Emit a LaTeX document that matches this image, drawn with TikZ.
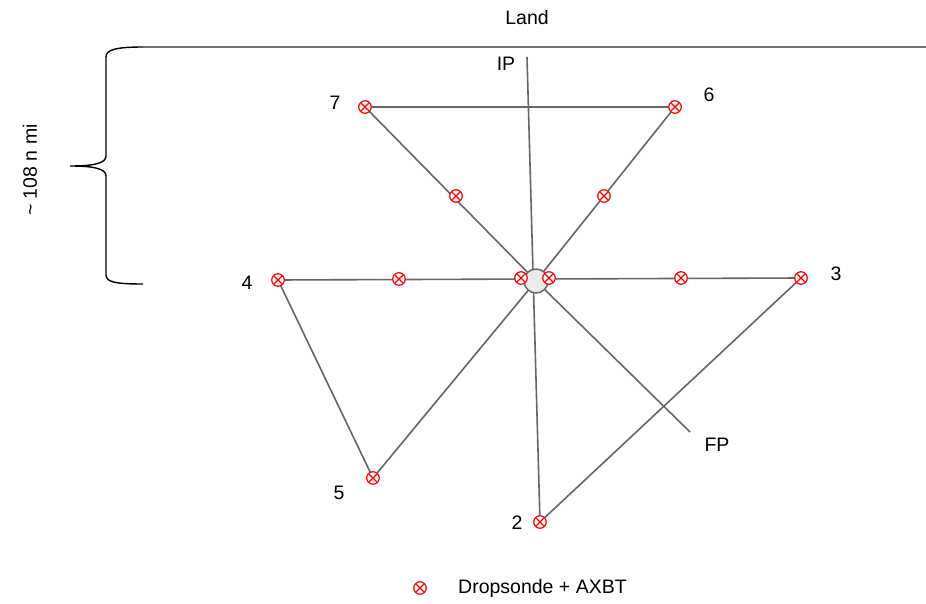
\documentclass[tikz,border=0pt]{standalone}
\usepackage{fontspec}
\setmainfont{Liberation Sans}
\pgfdeclarelayer{bg}
\pgfsetlayers{bg,main}
\begin{document}
\begin{tikzpicture}[x=1pt,y=-1pt,
  ln/.style={draw=black!60,line width=1.6pt},
  drop/.style={circle,draw=red,line width=1.2pt,fill=white,inner sep=0pt,minimum size=12.5pt,
    path picture={\draw[red,line width=1.2pt] ([xshift=2.6pt,yshift=2.6pt]path picture bounding box.south west) -- ([xshift=-2.6pt,yshift=-2.6pt]path picture bounding box.north east);
    \draw[red,line width=1.2pt] ([xshift=2.6pt,yshift=-2.6pt]path picture bounding box.north west) -- ([xshift=-2.6pt,yshift=2.6pt]path picture bounding box.south east);}},
  lab/.style={font=\fontsize{19.5}{23}\selectfont,inner sep=0pt}]
\useasboundingbox (0,0) rectangle (926,604);
% land line
\coordinate (landL) at (143,47);
\coordinate (landR) at (926,47);
\draw[black!55,line width=1.1pt] (landL) -- (landR);
\node[lab] (land) at (527,18) {Land};
% brace
\draw[black,line width=1.4pt] (landL) .. controls (115,47) and (106,50) .. (106,57) -- (106,156)
  .. controls (106,163) and (95,166) .. (70,166)
  .. controls (95,166) and (106,169) .. (106,176) -- (106,275)
  .. controls (106,282) and (115,284) .. (143,284);
\node[lab,rotate=90] (dist) at (30,170) {\textasciitilde{} 108 n mi};
% points
\coordinate (IPc) at (527,57);
\coordinate (FPc) at (690,432);
\node[circle,draw=black!60,fill=black!8,line width=1.4pt,minimum size=24pt,inner sep=0pt] (C) at (536,281) {};
\node[drop] (p7) at (365,107) {};
\node[drop] (p6) at (675,107) {};
\node[drop] (p4) at (278,280) {};
\node[drop] (p3) at (801,278) {};
\node[drop] (p5) at (373,478) {};
\node[drop] (p2) at (540,522) {};
\node[drop] (m1) at (456,196) {};
\node[drop] (m2) at (604,196) {};
\node[drop] (m3) at (399,279) {};
\node[drop] (m4) at (681,278) {};
\node[drop] (m5) at (521,278) {};
\node[drop] (m6) at (549,278) {};
% lines
\begin{pgfonlayer}{bg}
\path[ln] (IPc) -- (p2.center);
\path[ln] (p7.center) -- (p6.center);
\path[ln] (p7.center) -- (C.center);
\path[ln] (p6.center) -- (C.center);
\path[ln] (p4.center) -- (p3.center);
\path[ln] (p4.center) -- (p5.center);
\path[ln] (p5.center) -- (C.center);
\path[ln] (p3.center) -- (p2.center);
\path[ln] (C.center) -- (FPc);
\end{pgfonlayer}
% labels
\node[lab] (l7) at (335,103) {7};
\node[lab] (l6) at (709,95) {6};
\node[lab] (l4) at (247,283) {4};
\node[lab] (l3) at (836,274) {3};
\node[lab] (l5) at (339,493) {5};
\node[lab] (l2) at (517,523) {2};
\node[lab] (ip) at (506,64) {IP};
\node[lab] (fp) at (717,445) {FP};
% legend
\node[drop] (leg) at (420,588) {};
\node[lab,anchor=west] (legt) at (458,588) {Dropsonde + AXBT};
\end{tikzpicture}
\end{document}
